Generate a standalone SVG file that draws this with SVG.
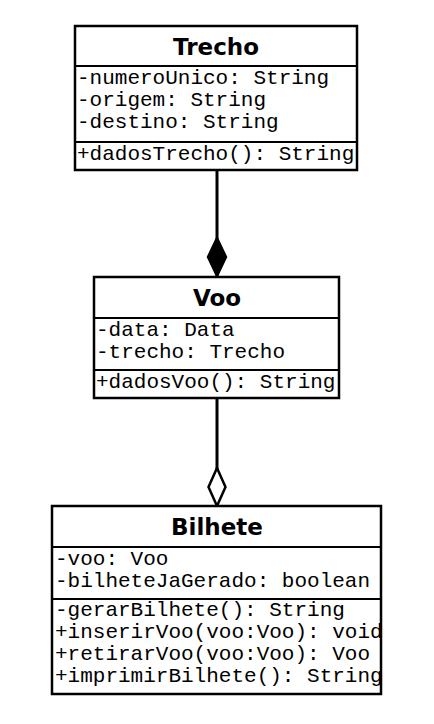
<svg xmlns="http://www.w3.org/2000/svg" width="434" height="724" viewBox="0 0 434 724">
  <style>
    .box { fill: #ffffff; stroke: #000000; stroke-width: 2.5; }
    .div { stroke: #000000; stroke-width: 2.2; }
    .title { font-family: "DejaVu Sans", Verdana, sans-serif; font-weight: bold; font-size: 23px; fill: #000000; text-anchor: middle; }
    .mem { font-family: "Liberation Mono", "Courier New", monospace; font-size: 21px; fill: #000000; }
    .conn { stroke: #000000; stroke-width: 3; fill: none; }
  </style>
  <defs>
    <clipPath id="clipTrecho"><rect x="75" y="26" width="282" height="144"/></clipPath>
    <clipPath id="clipVoo"><rect x="94" y="277" width="245" height="121"/></clipPath>
    <clipPath id="clipBilhete"><rect x="52" y="506" width="329" height="188"/></clipPath>
    <marker id="composition" markerUnits="userSpaceOnUse" viewBox="-2 -2 44 24" markerWidth="44" markerHeight="24" refX="40" refY="10" orient="auto">
      <path d="M0,10 L20,0.5 L40,10 L20,19.5 Z" fill="#000000" stroke="#000000" stroke-width="1.5"/>
    </marker>
    <marker id="aggregation" markerUnits="userSpaceOnUse" viewBox="-2 -2 42 22" markerWidth="42" markerHeight="22" refX="38" refY="9" orient="auto">
      <path d="M0,9 L19,0.5 L38,9 L19,17.5 Z" fill="#ffffff" stroke="#000000" stroke-width="2.5"/>
    </marker>
  </defs>

  <rect x="0" y="0" width="434" height="724" fill="#ffffff"/>

  <g id="connectors">
    <line class="conn" x1="217" y1="170" x2="217" y2="277" marker-end="url(#composition)"/>
    <line class="conn" x1="217" y1="398" x2="217" y2="506" marker-end="url(#aggregation)"/>
  </g>

  <g id="trecho">
    <rect class="box" x="75" y="26" width="282" height="144"/>
    <line class="div" x1="75" y1="66" x2="357" y2="66"/>
    <line class="div" x1="75" y1="142" x2="357" y2="142"/>
    <text class="title" x="216" y="55">Trecho</text>
    <g clip-path="url(#clipTrecho)">
      <text class="mem" x="77" y="84">-numeroUnico: String</text>
      <text class="mem" x="77" y="106">-origem: String</text>
      <text class="mem" x="77" y="128">-destino: String</text>
      <text class="mem" x="77" y="160">+dadosTrecho(): String</text>
    </g>
  </g>

  <g id="voo">
    <rect class="box" x="94" y="277" width="245" height="121"/>
    <line class="div" x1="94" y1="318" x2="339" y2="318"/>
    <line class="div" x1="94" y1="370" x2="339" y2="370"/>
    <text class="title" x="217" y="306">Voo</text>
    <g clip-path="url(#clipVoo)">
      <text class="mem" x="96" y="336">-data: Data</text>
      <text class="mem" x="96" y="358">-trecho: Trecho</text>
      <text class="mem" x="96" y="388">+dadosVoo(): String</text>
    </g>
  </g>

  <g id="bilhete">
    <rect class="box" x="52" y="506" width="329" height="188"/>
    <line class="div" x1="52" y1="547" x2="381" y2="547"/>
    <line class="div" x1="52" y1="599" x2="381" y2="599"/>
    <text class="title" x="217" y="535">Bilhete</text>
    <g clip-path="url(#clipBilhete)">
      <text class="mem" x="55" y="565">-voo: Voo</text>
      <text class="mem" x="55" y="587">-bilheteJaGerado: boolean</text>
      <text class="mem" x="55" y="616">-gerarBilhete(): String</text>
      <text class="mem" x="55" y="638">+inserirVoo(voo:Voo): void</text>
      <text class="mem" x="55" y="660">+retirarVoo(voo:Voo): Voo</text>
      <text class="mem" x="55" y="682">+imprimirBilhete(): String</text>
    </g>
  </g>
</svg>
